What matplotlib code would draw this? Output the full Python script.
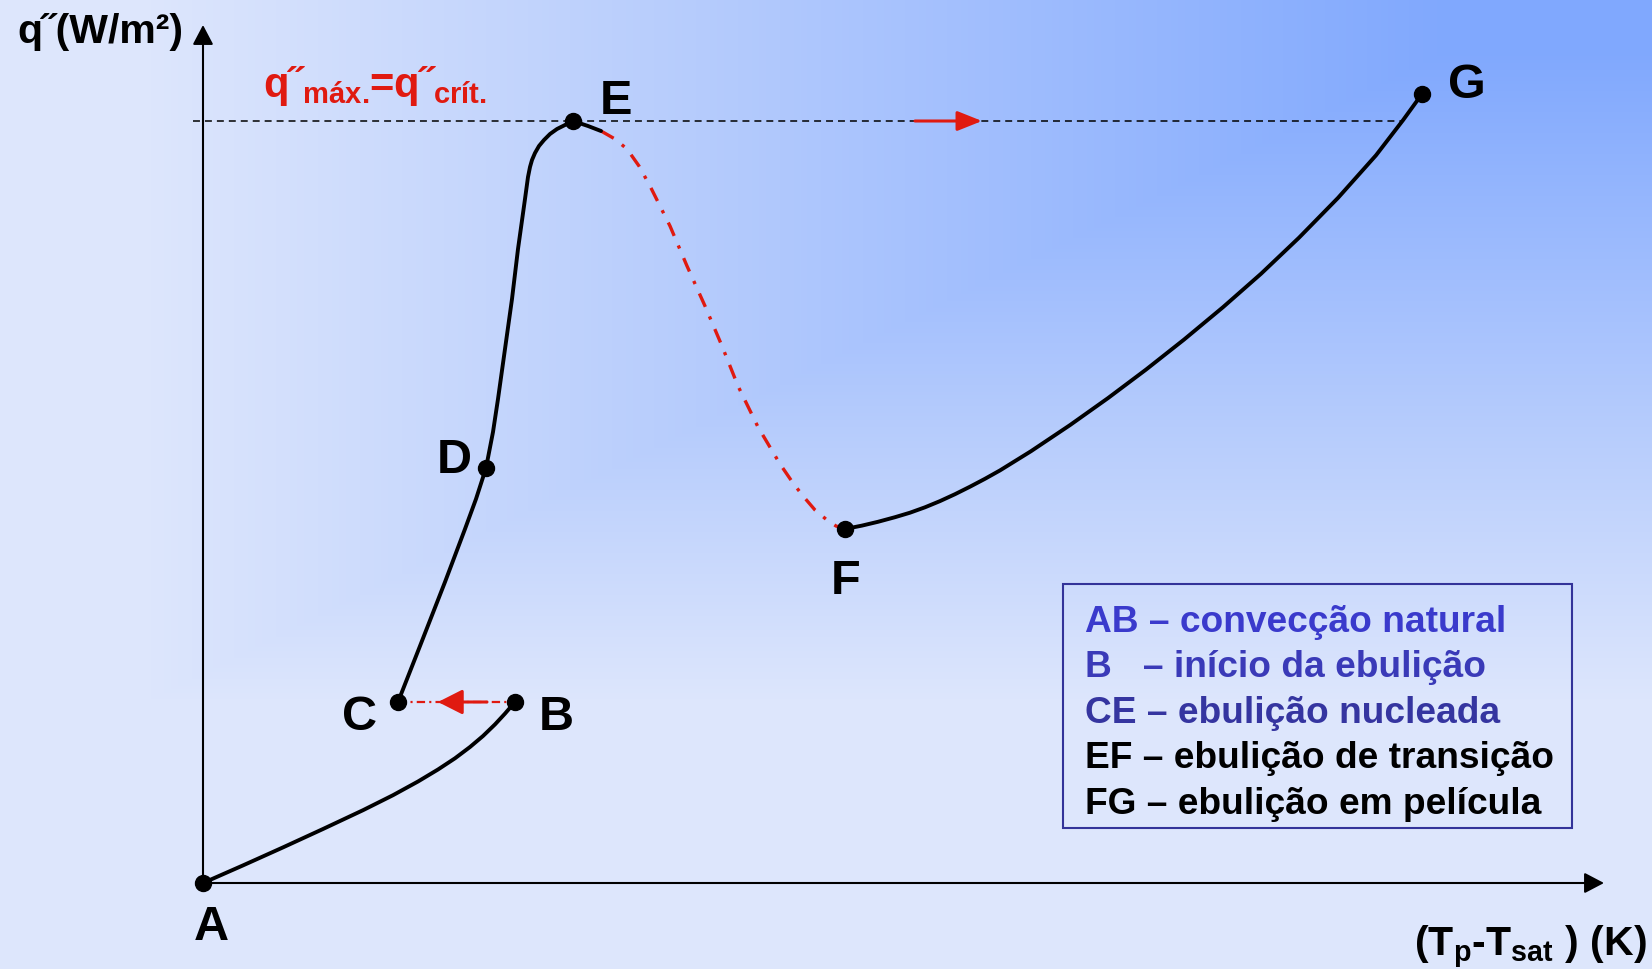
import numpy as np
import matplotlib
matplotlib.use("Agg")
import matplotlib.pyplot as plt
from matplotlib.patches import Rectangle

# ── Boiling curve (x = Tp - Tsat, y = q'', arbitrary units) ──
AB_X = [0, 40, 80, 120, 160, 190, 215, 235, 252, 267, 280, 292, 302, 312]
AB_Y = [0, 17.6, 35.6, 54, 72.8, 87.8, 101.5, 113.5, 124.7, 136, 147, 158.6, 169.4, 181]
CD_X = [195, 217, 242, 262, 273, 283]
CD_Y = [181, 237, 301, 354, 384, 415]
DE_X = [283, 290, 295, 302, 309, 315, 322, 325, 327, 329, 332, 336, 341, 347, 354, 362, 370]
DE_Y = [415, 451, 484, 534, 584, 634, 684, 706, 716, 723, 730, 737, 743, 749, 754, 758, 762]
EF_X = [370, 385, 398, 412, 424, 436, 447, 467, 484, 502, 519, 535, 555, 577, 590,
        600, 612, 624, 633, 642]
EF_Y = [762, 757, 752, 744, 734, 717, 697, 657, 617, 577, 537, 497, 456, 419, 400,
        387, 373, 363, 357, 354]
FG_X = [642, 659, 675, 692, 707, 722, 737, 752, 767, 782, 797, 828, 867, 905, 943,
        981, 1020, 1058, 1096, 1135, 1173, 1200, 1219]
FG_Y = [354, 357.4, 361.2, 365.8, 370.3, 375.7, 381.9, 388.8, 396.3, 404.2, 412.6,
        431.8, 457.9, 484.9, 513.4, 543.4, 575.8, 609.2, 645.3, 685.1, 727.7, 762.8, 789]

POINT_NAMES = ["A", "B", "C", "D", "E", "F", "G"]
POINT_X = [0, 312, 195, 283, 370, 642, 1219]
POINT_Y = [0, 181, 181, 415, 762, 354, 789]

Q_MAX = 762
Q_MAX_SPAN = [-10, 1198]
X_END, Y_END = 1401, 858

LEGEND_LINES = ["AB – convecção natural",
                "B   – início da ebulição",
                "CE – ebulição nucleada",
                "EF – ebulição de transição",
                "FG – ebulição em película"]

# ── Theme ─────────────────────────────────────────────────────────────────────
LIGHT_BG = np.array([221, 230, 252]) / 255
BLUE_BG = np.array([128, 168, 254]) / 255
RED = "#e01a10"
LEG_COLORS = ["#3a3acc", "#3a3ab8", "#3535a0", "black", "black"]
FONT = "Liberation Sans"

plt.rcParams.update({
    "font.family": FONT,
    "font.weight": "bold",
    "mathtext.fontset": "custom",
    "mathtext.rm": "Liberation Sans:bold",
    "mathtext.it": "Liberation Sans:bold",
    "mathtext.bf": "Liberation Sans:bold",
    "mathtext.sf": "Liberation Sans:bold",
    "mathtext.default": "rm",
    "lines.scale_dashes": False,
})

W, H = 1652, 970
OX, OY = 203, 884   # origin position in pixels


def background(fig):
    bg = fig.add_axes([0, 0, 1, 1])
    yy, xx = np.mgrid[0:H, 0:W]
    tx = np.clip((1450 - xx) / 1300, 0, 1)
    ty = np.clip((yy - 50) / 650, 0, 1)
    t = np.maximum(tx, ty)[..., None]
    bg.imshow(BLUE_BG + t * (LIGHT_BG - BLUE_BG), aspect="auto",
              interpolation="bilinear")
    bg.axis("off")


def arrow(ax, start, end, color, lw, hl, hw, ms):
    ax.annotate("", xy=end, xytext=start,
                arrowprops=dict(arrowstyle=f"-|>,head_length={hl},head_width={hw}",
                                mutation_scale=ms, lw=lw, color=color,
                                shrinkA=0, shrinkB=0))


def main():
    fig = plt.figure(figsize=(W / 100, H / 100), dpi=100)
    background(fig)

    ax = fig.add_axes([0, 0, 1, 1])
    ax.patch.set_alpha(0)
    ax.set_xlim(-OX, W - OX)
    ax.set_ylim(OY - H, OY)
    ax.axis("off")

    # axes with arrows
    arrow(ax, (0, 0), (X_END, 0), "black", 1.5, 0.8, 0.42, 15)
    arrow(ax, (0, 0), (0, Y_END), "black", 1.5, 0.8, 0.42, 15)

    # critical heat flux line
    ax.plot(Q_MAX_SPAN, [Q_MAX, Q_MAX], color="black", lw=1.1, dashes=(5, 3.6))
    arrow(ax, (712, Q_MAX), (779, Q_MAX), RED, 2.2, 0.75, 0.3, 20)

    # curve
    solid = dict(color="black", lw=2.8, solid_capstyle="round",
                 solid_joinstyle="round", zorder=4)
    ax.plot(AB_X, AB_Y, **solid)
    ax.plot(CD_X, CD_Y, **solid)
    ax.plot(DE_X, DE_Y, **solid)
    ax.plot(EF_X[:3], EF_Y[:3], **solid)
    ax.plot(FG_X, FG_Y, **solid)
    ax.plot(EF_X[2:], EF_Y[2:], color=RED, lw=2.4,
            dashes=(10.5, 7.5, 2.4, 7.5), zorder=3)

    # B -> C jump
    bx, by = POINT_X[1], POINT_Y[1]
    cx, cy = POINT_X[2], POINT_Y[2]
    ax.plot([cx, bx], [cy, by], color=RED, lw=1.6, dashes=(6, 3, 1.5, 3), zorder=3)
    arrow(ax, (bx - 28, by), (cx + 40, cy), RED, 2.2, 0.75, 0.38, 20)

    ax.plot(POINT_X, POINT_Y, "o", color="black", markersize=11.5, zorder=6)

    offsets = {"A": (8, -56), "B": (41, -27), "C": (-38, -27), "D": (-32, -4),
               "E": (43, 8), "F": (1, -64), "G": (45, -3)}
    for name, x, y in zip(POINT_NAMES, POINT_X, POINT_Y):
        dx, dy = offsets[name]
        ax.text(x + dx, y + dy, name, fontsize=35, fontweight="bold",
                ha="center", va="baseline")

    # axis labels
    ax.text(-186, 841, "q˝(W/m²)", fontsize=29.5, ha="left", va="baseline")
    ax.text(1444, -72, "(T$_{p}$-T$_{sat}$ ) (K)", fontsize=29.5,
            ha="right", va="baseline")
    ax.text(60, 787, r"q˝$_{máx.}\!$=q˝$_{crít.}$", fontsize=30, color=RED,
            ha="left", va="baseline")

    # legend box
    ax.add_patch(Rectangle((860, 55), 509, 244, fill=False,
                           edgecolor="#333399", lw=1.5, zorder=2))
    for i, (line, col) in enumerate(zip(LEGEND_LINES, LEG_COLORS)):
        ax.text(882, 252 - 45.5 * i, line, fontsize=26.7, color=col,
                ha="left", va="baseline")

    fig.savefig("out.png", dpi=100)


if __name__ == "__main__":
    main()
